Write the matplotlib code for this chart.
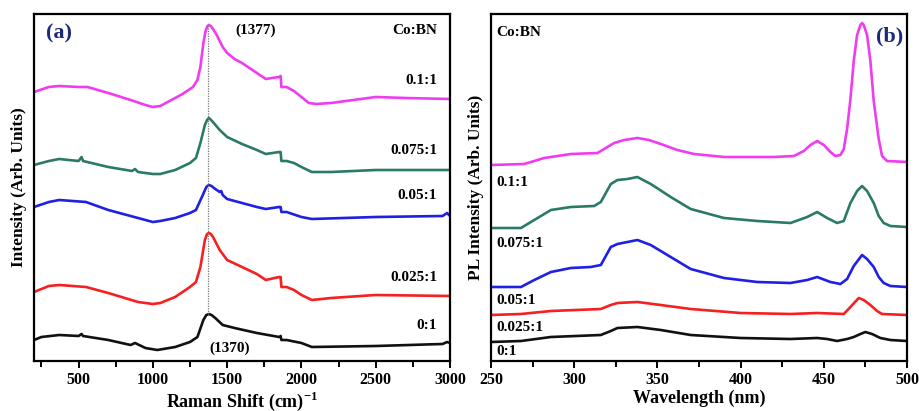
import matplotlib
matplotlib.use("Agg")
import matplotlib.pyplot as plt
from matplotlib.ticker import MultipleLocator, NullLocator

plt.rcParams['font.family'] = ['Liberation Serif', 'DejaVu Serif']
plt.rcParams['font.weight'] = 'bold'
plt.rcParams['mathtext.fontset'] = 'custom'
plt.rcParams['mathtext.rm'] = 'Liberation Serif:bold'
plt.rcParams['mathtext.bf'] = 'Liberation Serif:bold'

# ---------------- Raman spectra (stacked, arbitrary units) ----------------
raman_x_01 = [200, 300, 370, 500, 560, 700, 850, 950, 1000, 1050, 1100, 1200, 1270, 1300, 1320,
              1340, 1355, 1368, 1377, 1390, 1405, 1430, 1470, 1500, 1550, 1600, 1650, 1700, 1760,
              1800, 1850, 1860, 1865, 1900, 1950, 2000, 2050, 2100, 2200, 2500, 2700, 3000]
raman_y_01 = [269, 274, 275, 274, 274, 268, 261, 256, 254, 255, 259, 267, 274, 281, 294,
              318, 330, 335, 336, 335, 332, 326, 314, 308, 302, 298, 293, 288, 282,
              283, 284, 285, 274, 274, 270, 264, 258, 257, 258, 264, 263, 262]

raman_x_0075 = [200, 300, 370, 500, 520, 530, 700, 860, 880, 900, 1000, 1050, 1150, 1250, 1290,
                1320, 1350, 1365, 1377, 1392, 1410, 1450, 1500, 1600, 1700, 1760, 1850, 1860,
                1865, 1900, 1950, 2000, 2070, 2200, 2500, 3000]
raman_y_0075 = [196, 200, 202, 200, 204, 200, 194, 190, 192, 189, 187, 187, 191, 198, 203,
                218, 236, 241, 243, 241, 238, 231, 224, 217, 211, 207, 209, 209,
                200, 200, 198, 194, 189, 189, 191, 191]

raman_x_005 = [200, 300, 370, 550, 700, 900, 1000, 1050, 1150, 1250, 1290, 1330, 1360, 1377,
               1395, 1420, 1450, 1460, 1470, 1500, 1600, 1700, 1760, 1850, 1860, 1865, 1900,
               2000, 2070, 2500, 2950, 2980, 3000]
raman_y_005 = [154, 159, 161, 159, 151, 143, 139, 140, 143, 148, 151, 164, 174, 176,
               175, 172, 169, 170, 166, 162, 158, 154, 152, 154, 154, 149, 149,
               144, 142, 144, 145, 148, 145]

raman_x_0025 = [200, 300, 370, 550, 700, 900, 1000, 1050, 1150, 1250, 1290, 1320, 1350, 1365,
                1377, 1390, 1405, 1450, 1500, 1600, 1700, 1760, 1850, 1860, 1865, 1900, 1950,
                2000, 2070, 2200, 2500, 3000]
raman_y_0025 = [69, 75, 76, 74, 68, 59, 57, 58, 64, 74, 79, 94, 121, 127,
                128, 127, 124, 111, 101, 94, 87, 81, 84, 84, 74, 74, 71,
                66, 61, 63, 66, 65]

raman_x_0 = [200, 250, 370, 500, 520, 530, 700, 850, 880, 950, 1030, 1150, 1250, 1300, 1340,
             1360, 1377, 1395, 1420, 1470, 1550, 1700, 1850, 1860, 1865, 1900, 2000, 2070,
             2500, 2950, 2980, 3000]
raman_y_0 = [21, 24, 26, 25, 27, 25, 21, 16, 18, 13, 11, 14, 19, 24, 41,
             46, 47, 46, 43, 36, 33, 28, 24, 25, 21, 21, 18, 14,
             15, 17, 19, 18]

# ---------------- PL spectra (stacked, arbitrary units) ----------------
pl_x_01 = [250, 270, 282, 298, 314, 318, 324, 330, 338, 345, 352, 362, 372, 390, 420, 432,
           438, 442, 446, 450, 454, 457, 460, 462, 464, 466, 468, 470, 472, 473, 474, 476,
           478, 480, 483, 485, 488, 500]
pl_y_01 = [196, 197, 203, 207, 208, 212, 218, 221, 223, 221, 217, 211, 207, 204, 204, 205,
           210, 216, 220, 216, 209, 205, 206, 212, 232, 262, 300, 326, 336, 338, 336, 326,
           300, 260, 222, 205, 200, 199]

pl_x_0075 = [250, 268, 276, 286, 298, 312, 316, 322, 326, 332, 338, 346, 358, 370, 390, 410,
             430, 440, 446, 452, 458, 462, 466, 470, 473, 476, 480, 483, 486, 490, 500]
pl_y_0075 = [133, 133, 141, 151, 154, 155, 159, 177, 181, 182, 184, 177, 164, 152, 143, 140,
             138, 144, 149, 143, 138, 140, 158, 170, 175, 170, 158, 145, 138, 135, 134]

pl_x_005 = [250, 268, 276, 286, 298, 310, 316, 322, 326, 332, 338, 346, 358, 370, 390, 410,
            430, 440, 446, 454, 460, 464, 468, 473, 476, 480, 483, 486, 490, 500]
pl_y_005 = [74, 74, 81, 89, 93, 94, 96, 114, 117, 119, 121, 116, 104, 92, 83, 79,
            78, 81, 84, 79, 77, 82, 95, 106, 102, 94, 84, 78, 75, 74]

pl_x_0025 = [250, 268, 286, 316, 322, 326, 338, 352, 370, 400, 430, 446, 462, 466, 471, 474,
             478, 482, 485, 500]
pl_y_0025 = [46, 47, 50, 52, 56, 58, 59, 56, 52, 48, 47, 48, 47, 54, 63, 61,
             56, 50, 47, 46]

pl_x_0 = [250, 268, 286, 316, 322, 326, 338, 352, 370, 400, 430, 446, 452, 458, 464, 468,
          472, 475, 479, 484, 490, 500]
pl_y_0 = [19, 20, 24, 26, 30, 33, 34, 31, 26, 23, 22, 23, 22, 20, 22, 24,
          27, 29, 27, 23, 21, 20]

ratios = ['0.1:1', '0.075:1', '0.05:1', '0.025:1', '0:1']
colors = ['#f03cf0', '#2b7a68', '#1f1fe6', '#f52020', '#111111']

raman_series = [(raman_x_01, raman_y_01), (raman_x_0075, raman_y_0075), (raman_x_005, raman_y_005),
                (raman_x_0025, raman_y_0025), (raman_x_0, raman_y_0)]
pl_series = [(pl_x_01, pl_y_01), (pl_x_0075, pl_y_0075), (pl_x_005, pl_y_005),
             (pl_x_0025, pl_y_0025), (pl_x_0, pl_y_0)]

# vertical positions of the ratio labels in each panel
raman_label_y = [281, 211, 166, 84, 36]
pl_label_y = [179, 118, 61, 34, 10]

PEAK_POS = 1374
PEAK_TOP = 336
PEAK_BOTTOM = 47

W, H = 919, 411
fig = plt.figure(figsize=(W / 100, H / 100), dpi=100)
ax_a = fig.add_axes([34 / W, 1 - 361 / H, 416 / W, 347 / H])
ax_b = fig.add_axes([491 / W, 1 - 361 / H, 416 / W, 347 / H])

for ax in (ax_a, ax_b):
    for sp in ax.spines.values():
        sp.set_linewidth(1.6)
    ax.set_ylim(0, 347)
    ax.yaxis.set_major_locator(NullLocator())
    ax.tick_params(axis='x', which='both', direction='out', width=1.4, labelsize=11.5, pad=3)
    ax.tick_params(axis='x', which='major', length=5)
    ax.tick_params(axis='x', which='minor', length=4)

# ---- panel (a): Raman ----
for (xs, ys), c in zip(raman_series, colors):
    ax_a.plot(xs, ys, color=c, lw=1.9, solid_joinstyle='round')
ax_a.plot([PEAK_POS, PEAK_POS], [PEAK_BOTTOM, PEAK_TOP], color='#777777', lw=0.9, ls=(0, (1, 1)))
ax_a.set_xlim(200, 3000)
ax_a.set_xticks([500, 1000, 1500, 2000, 2500, 3000])
ax_a.xaxis.set_minor_locator(MultipleLocator(250))
for lab, y in zip(ratios, raman_label_y):
    ax_a.text(2915, y, lab, ha='right', va='center', fontsize=11, fontweight='bold')
ax_a.text(2915, 331, 'Co:BN', ha='right', va='center', fontsize=11, fontweight='bold')
ax_a.text(1690, 331, '(1377)', ha='center', va='center', fontsize=11, fontweight='bold')
ax_a.text(1520, 13, '(1370)', ha='center', va='center', fontsize=11, fontweight='bold')
ax_a.text(0.03, 0.945, '(a)', transform=ax_a.transAxes, ha='left', va='center',
          fontsize=16, fontweight='bold', color='#1c2a78')
ax_a.set_xlabel('Raman Shift (cm)$^{-1}$', fontsize=13, fontweight='bold', labelpad=1)
ax_a.set_ylabel('Intensity (Arb. Units)', fontsize=12.5, fontweight='bold', labelpad=5)

# ---- panel (b): PL ----
for (xs, ys), c in zip(pl_series, colors):
    ax_b.plot(xs, ys, color=c, lw=1.9, solid_joinstyle='round')
ax_b.set_xlim(250, 500)
ax_b.set_xticks([250, 300, 350, 400, 450, 500])
ax_b.xaxis.set_minor_locator(MultipleLocator(25))
for lab, y in zip(ratios, pl_label_y):
    ax_b.text(253, y, lab, ha='left', va='center', fontsize=11, fontweight='bold')
ax_b.text(253, 329, 'Co:BN', ha='left', va='center', fontsize=11, fontweight='bold')
ax_b.text(0.99, 0.935, '(b)', transform=ax_b.transAxes, ha='right', va='center',
          fontsize=16, fontweight='bold', color='#1c2a78')
ax_b.set_xlabel('Wavelength (nm)', fontsize=13, fontweight='bold', labelpad=1)
ax_b.set_ylabel('PL Intensity (Arb. Units)', fontsize=12.5, fontweight='bold', labelpad=5)

for ax in (ax_a, ax_b):
    for lab in ax.get_xticklabels():
        lab.set_fontweight('bold')

fig.savefig('out.png', dpi=100)
